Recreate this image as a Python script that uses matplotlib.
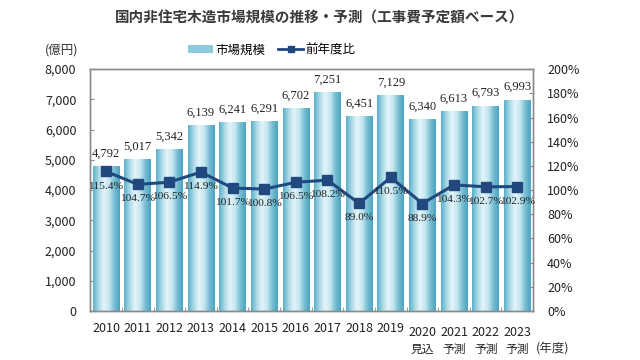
import matplotlib as mpl
mpl.use('Agg')
import matplotlib.pyplot as plt
import numpy as np
from matplotlib.colors import LinearSegmentedColormap
from matplotlib.patches import Patch
from matplotlib.lines import Line2D

plt.rcParams['font.family'] = ['Noto Sans CJK JP', 'DejaVu Sans']

# データ
years = ['2010', '2011', '2012', '2013', '2014', '2015', '2016', '2017', '2018', '2019',
         '2020', '2021', '2022', '2023']
notes = ['', '', '', '', '', '', '', '', '', '', '見込', '予測', '予測', '予測']
market = [4792, 5017, 5342, 6139, 6241, 6291, 6702, 7251, 6451, 7129, 6340, 6613, 6793, 6993]
ratio = [115.4, 104.7, 106.5, 114.9, 101.7, 100.8, 106.5, 108.2, 89.0, 110.5, 88.9, 104.3, 102.7, 102.9]

BAR_CMAP = LinearSegmentedColormap.from_list(
    'cyl', ['#5aaec8', '#a6d8e6', '#e4f4f9', '#c6e7f0', '#76bdd2', '#4aa3bf'])
LINE_COLOR = '#21497f'
SPINE_COLOR = '#8a8a8a'

fig = plt.figure(figsize=(6.4, 3.6), dpi=100)
ax = fig.add_axes([0.141, 0.136, 0.692, 0.672])

x = np.arange(len(years))
bars = ax.bar(x, market, width=0.84, facecolor='none', edgecolor='none', zorder=2)

# 棒をグラデーションで塗る
grad = np.linspace(0, 1, 256).reshape(1, -1)
for b in bars:
    bx, by = b.get_x(), b.get_y()
    w, h = b.get_width(), b.get_height()
    im = ax.imshow(grad, cmap=BAR_CMAP, aspect='auto', extent=[bx, bx + w, by, by + h], zorder=2)
    im.set_clip_path(b)

for xi, v in zip(x, market):
    ax.annotate(f'{v:,}', (xi, v), xytext=(0, 9), textcoords='offset points',
                ha='center', va='center', fontsize=9, family='Liberation Serif', color='#222222')

ax.set_xlim(-0.5, len(years) - 0.5)
ax.set_ylim(0, 8000)
ax.set_yticks(np.arange(0, 8001, 1000))
ax.set_yticklabels([f'{t:,}' for t in range(0, 8001, 1000)])
ax.set_xticks(x)
ax.set_xticklabels(years)
ax.set_xticks(np.arange(-0.5, len(years), 1), minor=True)
ax.tick_params(axis='x', which='major', length=0, pad=8, labelsize=9, colors='#222222')
ax.tick_params(axis='x', which='minor', direction='in', length=3, color=SPINE_COLOR)
ax.tick_params(axis='y', direction='in', length=3, color=SPINE_COLOR, labelsize=9,
               labelcolor='#222222', pad=10)
# 見込・予測の年は少し下げる
for tick, n in zip(ax.xaxis.get_major_ticks(), notes):
    if n:
        tick.set_pad(10.5)
for xi, n in zip(x, notes):
    if n:
        ax.text(xi, -0.16, n, transform=ax.get_xaxis_transform(), ha='center', va='center',
                fontsize=8.5, color='#222222')

# 前年度比（右軸）
ax2 = ax.twinx()
ax2.plot(x, ratio, color=LINE_COLOR, lw=2.2, marker='s', markersize=6.5, zorder=3)
for xi, r in zip(x, ratio):
    ax2.annotate(f'{r:.1f}%', (xi, r), xytext=(0, -10.5), textcoords='offset points',
                 ha='center', va='center', fontsize=8.2, family='Liberation Serif', color='#222222')
ax2.set_ylim(0, 200)
ax2.set_yticks(np.arange(0, 201, 20))
ax2.set_yticklabels([f'{t}%' for t in range(0, 201, 20)])
ax2.tick_params(axis='y', direction='in', length=3, color=SPINE_COLOR, labelsize=9,
                labelcolor='#222222', pad=10)

for a in (ax, ax2):
    for s in a.spines.values():
        s.set_color(SPINE_COLOR)
        s.set_linewidth(1.0)

fig.text(0.5, 0.95, '国内非住宅木造市場規模の推移・予測（工事費予定額ベース）',
         ha='center', va='center', fontsize=10.5, fontweight='bold', color='#3a3a3a')
fig.text(0.097, 0.861, '(億円)', ha='center', va='center', fontsize=9, color='#333333')
fig.text(0.863, 0.03, '(年度)', ha='center', va='center', fontsize=9, color='#333333')

handles = [Patch(facecolor='#8ccbdd', edgecolor='none'),
           Line2D([0], [0], color=LINE_COLOR, lw=2, marker='s', markersize=5)]
fig.legend(handles, ['市場規模', '前年度比'], loc='center', bbox_to_anchor=(0.425, 0.861),
           ncol=2, frameon=False, fontsize=9, handlelength=2.0, handleheight=0.6,
           columnspacing=1.0, handletextpad=0.2)

fig.savefig('out.png', dpi=100)
